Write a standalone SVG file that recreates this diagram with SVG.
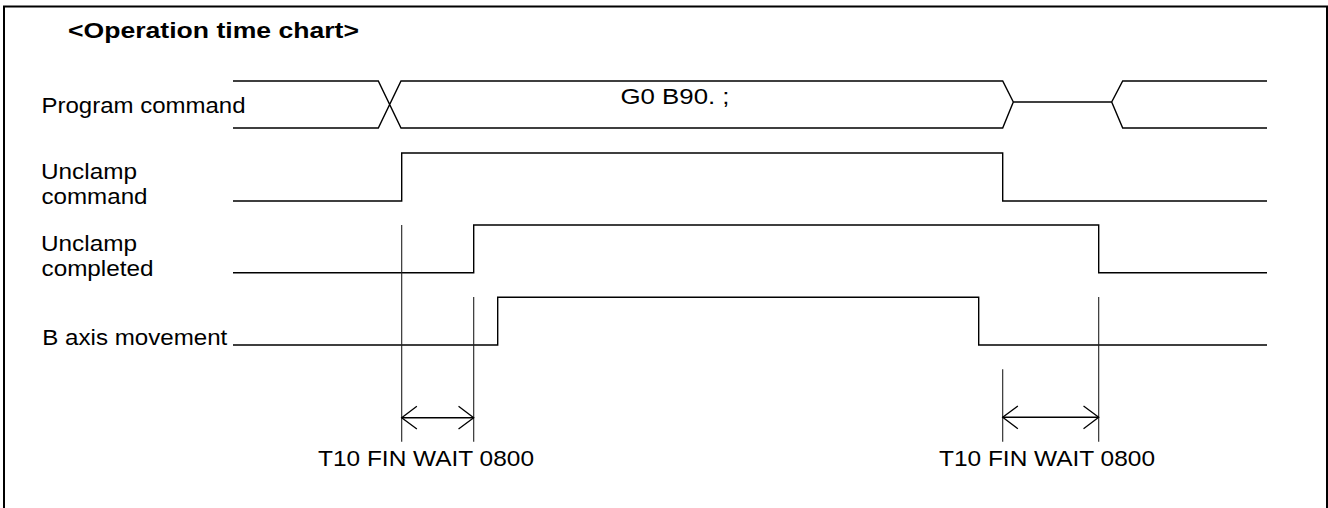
<svg xmlns="http://www.w3.org/2000/svg" width="1328" height="508" viewBox="0 0 1328 508">
  <style>
    text { font-family: "Liberation Sans", Arial, sans-serif; font-size: 22px; fill: #000; }
    .title { font-weight: bold; }
    .sig { fill: none; stroke: #000; stroke-width: 1.4; stroke-linejoin: miter; }
    .ext { fill: none; stroke: #222; stroke-width: 1.1; }
    .dim { fill: none; stroke: #000; stroke-width: 1.4; }
    .frame { fill: none; stroke: #000; stroke-width: 2; }
  </style>
  <defs>
    <marker id="open" markerUnits="userSpaceOnUse" markerWidth="20" markerHeight="26" viewBox="-16 -12 18 24" refX="0" refY="0" orient="auto-start-reverse">
      <path d="M-14,-10.5 L0,0 L-14,10.5" fill="none" stroke="#000" stroke-width="1.2"/>
    </marker>
  </defs>
  <rect width="1328" height="508" fill="#fff"/>
  <path class="frame" d="M4,508 V6.5 H1327 V508"/>

  <g id="title">
    <text class="title" x="68" y="37.5" textLength="291" lengthAdjust="spacingAndGlyphs">&lt;Operation time chart&gt;</text>
  </g>

  <g id="program-command">
    <text x="41.5" y="112.5" textLength="204" lengthAdjust="spacingAndGlyphs">Program command</text>
    <path class="sig" d="M233,81 H378.3 L401,128 H1002.7 L1013.3,102 L1002.7,81 H401 L378.3,128 H233"/>
    <path class="sig" d="M1013.3,102 H1111.7"/>
    <path class="sig" d="M1267,81 H1122.7 L1111.7,102 L1122.7,128 H1267"/>
    <text x="620.5" y="104.3" textLength="109" lengthAdjust="spacingAndGlyphs">G0 B90. ;</text>
  </g>

  <g id="unclamp-command">
    <text x="41" y="179.3" textLength="96" lengthAdjust="spacingAndGlyphs">Unclamp</text>
    <text x="41.5" y="204" textLength="106" lengthAdjust="spacingAndGlyphs">command</text>
    <path class="sig" d="M233,201 H401.7 V153 H1002.7 V201 H1267"/>
  </g>

  <g id="unclamp-completed">
    <text x="41" y="250.7" textLength="96" lengthAdjust="spacingAndGlyphs">Unclamp</text>
    <text x="41.5" y="276" textLength="112" lengthAdjust="spacingAndGlyphs">completed</text>
    <path class="sig" d="M233,272.7 H473.7 V225 H1098.7 V272.7 H1267"/>
  </g>

  <g id="b-axis-movement">
    <text x="42.3" y="344.5" textLength="185" lengthAdjust="spacingAndGlyphs">B axis movement</text>
    <path class="sig" d="M233,345 H497.7 V297.3 H978.7 V345 H1267"/>
  </g>

  <g id="connectors">
    <path class="ext" d="M401.7,225 V441.7"/>
    <path class="ext" d="M473.7,297 V441.7"/>
    <path class="ext" d="M1002.7,369.3 V441.7"/>
    <path class="ext" d="M1098.7,297 V441.7"/>
    <path class="dim" d="M401.7,417.7 H473.7" marker-start="url(#open)" marker-end="url(#open)"/>
    <path class="dim" d="M1002.7,417.3 H1098.7" marker-start="url(#open)" marker-end="url(#open)"/>
  </g>

  <g id="wait-label-1">
    <text x="318" y="466" textLength="216" lengthAdjust="spacingAndGlyphs">T10 FIN WAIT 0800</text>
  </g>
  <g id="wait-label-2">
    <text x="939" y="466" textLength="216" lengthAdjust="spacingAndGlyphs">T10 FIN WAIT 0800</text>
  </g>
</svg>
